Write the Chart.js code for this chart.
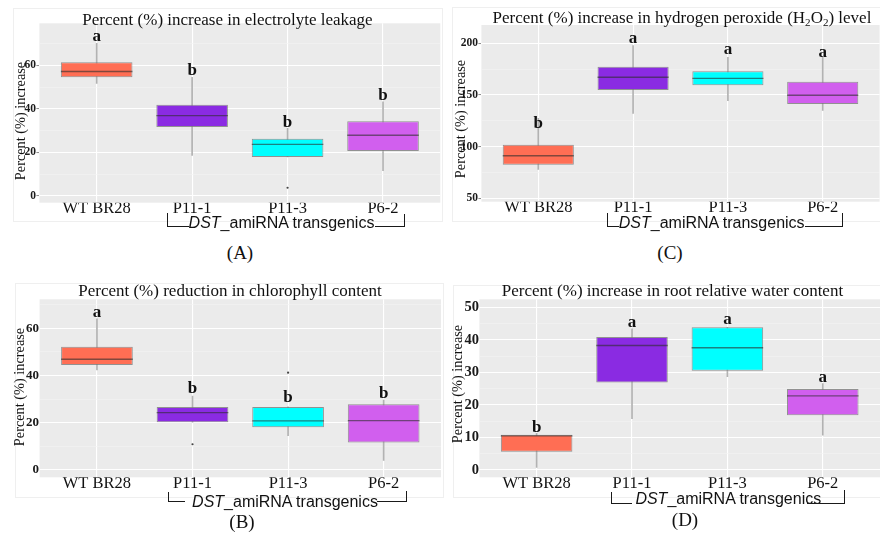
<!DOCTYPE html>
<html><head><meta charset="utf-8">
<script src="https://cdn.jsdelivr.net/npm/chart.js@4.4.0/dist/chart.umd.min.js"></script>
<style>
html,body{margin:0;padding:0;width:880px;height:538px;overflow:hidden;background:#fff;}
.cv{position:absolute;}
.fr{position:absolute;border:1px solid #efefef;box-sizing:border-box;}
.t{position:absolute;white-space:nowrap;line-height:1;transform:translate(-50%,-50%);font-family:"Liberation Serif","Times New Roman",serif;color:#111;}
.ttl{font-size:17px;}
.yt{font-size:14.3px;transform:translate(-50%,-50%) rotate(-90deg);}
.cap{font-size:19px;}
.ds{font-family:"Liberation Sans",Arial,sans-serif;font-size:16px;}
.br{position:absolute;box-sizing:border-box;border:0 solid #1a1a1a;}
.bl{border-left-width:1.4px;border-bottom-width:1.4px;}
.bri{border-right-width:1.4px;border-bottom-width:1.4px;}
sub{font-size:65%;line-height:0;vertical-align:-0.3em;}
</style></head><body>

<div class="fr" style="left:13px;top:8px;width:430px;height:214px"></div>
<div class="fr" style="left:452px;top:7px;width:440px;height:215px"></div>
<div class="fr" style="left:15px;top:283px;width:429px;height:215px"></div>
<div class="fr" style="left:453px;top:285px;width:440px;height:213px"></div>

<canvas id="cA" class="cv" width="445" height="240" style="left:0;top:0"></canvas>
<canvas id="cC" class="cv" width="435" height="240" style="left:445px;top:0"></canvas>
<canvas id="cB" class="cv" width="445" height="240" style="left:0;top:270px"></canvas>
<canvas id="cD" class="cv" width="435" height="240" style="left:445px;top:270px"></canvas>

<div class="t ttl" style="left:227.5px;top:18.8px">Percent (%) increase in electrolyte leakage</div>
<div class="t ttl" style="left:682px;top:16.7px">Percent (%) increase in hydrogen peroxide (H<sub>2</sub>O<sub>2</sub>) level</div>
<div class="t ttl" style="left:230px;top:290px">Percent (%) reduction in chlorophyll content</div>
<div class="t ttl" style="left:672.5px;top:290px">Percent (%) increase in root relative water content</div>

<div class="t yt" style="left:20px;top:121px">Percent (%) increase</div>
<div class="t yt" style="left:460px;top:119px">Percent (%) increase</div>
<div class="t yt" style="left:18.5px;top:386.7px">Percent (%) increase</div>
<div class="t yt" style="left:456.7px;top:384px">Percent (%) increase</div>

<div class="br bl" style="left:167.3px;top:213px;width:21.7px;height:13.7px"></div>
<div class="t ds" style="left:281.5px;top:223.3px"><i>DST</i>_amiRNA transgenics</div>
<div class="br bri" style="left:375px;top:214px;width:29.5px;height:12.7px"></div>

<div class="br bl" style="left:607.3px;top:213.3px;width:12px;height:13.4px"></div>
<div class="t ds" style="left:711.7px;top:223.3px"><i>DST</i>_amiRNA transgenics</div>
<div class="br bri" style="left:805px;top:213.3px;width:37.5px;height:13.4px"></div>

<div class="br bl" style="left:168.3px;top:491.7px;width:16.7px;height:10px"></div>
<div class="t ds" style="left:285px;top:501.7px"><i>DST</i>_amiRNA transgenics</div>
<div class="br bri" style="left:376.7px;top:490.7px;width:30.5px;height:11px"></div>

<div class="br bl" style="left:610.7px;top:491.7px;width:21px;height:12.3px"></div>
<div class="t ds" style="left:728.3px;top:499px"><i>DST</i>_amiRNA transgenics</div>
<div class="br bri" style="left:806.7px;top:490px;width:38px;height:14px"></div>

<div class="t cap" style="left:240px;top:252px">(A)</div>
<div class="t cap" style="left:670px;top:252px">(C)</div>
<div class="t cap" style="left:242px;top:521px">(B)</div>
<div class="t cap" style="left:685px;top:519px">(D)</div>

<script>
// ---------- data ----------
const categories = ['WT BR28', 'P11-1', 'P11-3', 'P6-2'];

// (A) electrolyte leakage
const leakLow     = [51.7, 18.7, 17.9, 11.6];
const leakQ1      = [54.5, 31.7, 17.9, 20.7];
const leakMedian  = [57.2, 36.9, 23.7, 27.9];
const leakQ3      = [61.4, 41.9, 26.3, 34.3];
const leakHigh    = [70.1, 54.5, 31.1, 43.2];
const leakOutliers = [[], [], [3.8], []];
const leakLetters = ['a', 'b', 'b', 'b'];
const leakLetterAt = [71.3, 55.6, 31.5, 44.1];
const leakMajorTicks = [0, 20, 40, 60];
const leakMinorTicks = [10, 30, 50, 70];

// (C) hydrogen peroxide
const h2o2Low     = [78.1, 132.3, 144.5, 135.2];
const h2o2Q1      = [82.6, 154.8, 159.4, 141.3];
const h2o2Median  = [91.3, 167.1, 166.1, 149.7];
const h2o2Q3      = [101.9, 177.4, 172.9, 162.9];
const h2o2High    = [127.4, 197.7, 186.5, 186.5];
const h2o2Outliers = [[], [], [], []];
const h2o2Letters = ['b', 'a', 'a', 'a'];
const h2o2LetterAt = [117.7, 200.0, 189.7, 186.5];
const h2o2MajorTicks = [50, 100, 150, 200];
const h2o2MinorTicks = [75, 125, 175];

// (B) chlorophyll
const chlLow     = [42.4, 20.2, 14.5, 4.0];
const chlQ1      = [44.5, 20.2, 18.1, 11.6];
const chlMedian  = [46.9, 24.3, 20.8, 20.9];
const chlQ3      = [52.2, 26.7, 26.7, 27.8];
const chlHigh    = [64.0, 31.3, 26.7, 29.6];
const chlOutliers = [[], [10.9], [41.2], []];
const chlLetters = ['a', 'b', 'b', 'b'];
const chlLetterAt = [64.9, 32.5, 28.9, 30.4];
const chlMajorTicks = [0, 20, 40, 60];
const chlMinorTicks = [10, 30, 50, 70];

// (D) root relative water content
const rwcLow     = [0.8, 15.8, 28.7, 10.7];
const rwcQ1      = [5.6, 26.9, 30.5, 16.8];
const rwcMedian  = [10.5, 38.3, 37.6, 22.8];
const rwcQ3      = [10.8, 40.9, 43.9, 24.9];
const rwcHigh    = [11.3, 43.4, 43.9, 26.6];
const rwcOutliers = [[], [], [], []];
const rwcLetters = ['b', 'a', 'a', 'a'];
const rwcLetterAt = [11.8, 44.1, 44.9, 27.2];
const rwcMajorTicks = [0, 10, 20, 30, 40, 50];
const rwcMinorTicks = [5, 15, 25, 35, 45];

// ---------- styles ----------
const boxFill = ['#FF6E54', '#8A2BE2', '#00FFFF', '#D15FEE'];
const serif = '"Liberation Serif","Times New Roman",serif';

const bgPlugin = {
  id: 'panelBg',
  beforeDraw(chart) {
    const a = chart.chartArea, c = chart.ctx;
    c.save(); c.fillStyle = '#EBEBEB';
    c.fillRect(a.left, a.top, a.right - a.left, a.bottom - a.top);
    c.restore();
  }
};
const letterPlugin = {
  id: 'letters',
  afterDatasetsDraw(chart) {
    const o = chart.options.plugins.letters;
    const c = chart.ctx, xs = chart.scales.x, ys = chart.scales.y;
    c.save();
    c.font = 'bold 17px ' + serif;
    c.fillStyle = '#111';
    c.textAlign = 'center';
    c.textBaseline = 'alphabetic';
    o.letters.forEach((t, i) => c.fillText(t, xs.getPixelForValue(i + 1), ys.getPixelForValue(o.at[i])));
    c.restore();
  }
};

function boxChart(id, d, L) {
  const xs = categories.map((_, i) => i + 1);
  const outlierPts = [];
  d.outliers.forEach((arr, i) => arr.forEach(v => outlierPts.push({x: i + 1, y: v})));
  const majorSet = new Set(d.major);
  const isMajor = v => majorSet.has(v);
  const allTicks = d.major.concat(d.minor).sort((a, b) => a - b);
  return new Chart(document.getElementById(id), {
    type: 'bar',
    data: {
      datasets: [
        { label: 'whisker', data: xs.map((x, i) => ({x, y: [d.low[i], d.high[i]]})),
          backgroundColor: '#b2b2b2', borderWidth: 0, barThickness: 1, grouped: false, order: 3 },
        { label: 'box', data: xs.map((x, i) => ({x, y: [d.q1[i], d.q3[i]]})),
          backgroundColor: boxFill, borderColor: 'rgba(115,115,115,0.75)', borderWidth: 1,
          borderSkipped: false, grouped: false, categoryPercentage: 0.75, barPercentage: 1, order: 2 },
        { type: 'scatter', label: 'median', data: xs.map((x, i) => ({x, y: d.med[i]})),
          pointStyle: 'line', borderColor: 'rgba(45,45,45,0.6)', pointBorderColor: 'rgba(45,45,45,0.6)',
          pointBorderWidth: 1.4,
          pointRadius: ctx => { const s = ctx.chart.scales.x; return s.getPixelForValue(1.375) - s.getPixelForValue(1); },
          order: 1 },
        { type: 'scatter', label: 'outlier', data: outlierPts, pointRadius: 1.1,
          backgroundColor: '#444', pointBorderWidth: 0, borderWidth: 0, order: 0 }
      ]
    },
    options: {
      responsive: false, animation: false, devicePixelRatio: 1, events: [],
      layout: { padding: { left: 0, top: L.top, right: L.right, bottom: 0 } },
      plugins: { legend: { display: false }, tooltip: { enabled: false }, title: { display: false },
        letters: { letters: d.letters, at: d.letterAt } },
      scales: {
        x: {
          type: 'linear', min: 0.4, max: 4.6, offset: false,
          afterBuildTicks: s => { s.ticks = xs.map(v => ({value: v})); },
          afterFit: s => { s.height = L.xh; s.paddingLeft = 0; s.paddingRight = 0; },
          border: { display: false },
          grid: { color: '#ffffff', lineWidth: 1.1, drawTicks: false, offset: false },
          ticks: { callback: v => categories[Math.round(v) - 1], autoSkip: false, maxRotation: 0,
            font: { family: serif, size: 16.5 }, color: '#111', padding: L.xpad }
        },
        y: {
          min: L.ymin, max: L.ymax,
          afterBuildTicks: s => { s.ticks = allTicks.map(v => ({value: v})); },
          afterFit: s => { s.width = L.left; s.paddingTop = 0; s.paddingBottom = 0; },
          border: { display: false },
          grid: {
            color: c => isMajor(c.tick.value) ? '#ffffff' : '#f3f3f3',
            lineWidth: c => isMajor(c.tick.value) ? 1.1 : 0.6,
            drawTicks: L.tick > 0, tickLength: L.tick,
            tickColor: c => isMajor(c.tick.value) ? '#8a8a8a' : 'rgba(0,0,0,0)', tickWidth: 1
          },
          ticks: { callback: v => isMajor(v) ? String(v) : '', autoSkip: false,
            font: { family: serif, size: L.yfont, weight: 'bold' }, color: '#1a1a1a', padding: 0.5 }
        }
      }
    },
    plugins: [bgPlugin, letterPlugin]
  });
}

boxChart('cA',
  { low: leakLow, q1: leakQ1, med: leakMedian, q3: leakQ3, high: leakHigh, outliers: leakOutliers,
    letters: leakLetters, letterAt: leakLetterAt, major: leakMajorTicks, minor: leakMinorTicks },
  { left: 39.4, top: 23.3, right: 4.7, xh: 37.3, ymin: -3.06, ymax: 79.3, xpad: -3.6, yfont: 11.5, tick: 3 });

boxChart('cC',
  { low: h2o2Low, q1: h2o2Q1, med: h2o2Median, q3: h2o2Q3, high: h2o2High, outliers: h2o2Outliers,
    letters: h2o2Letters, letterAt: h2o2LetterAt, major: h2o2MajorTicks, minor: h2o2MinorTicks },
  { left: 36.4, top: 25, right: 0.4, xh: 38.3, ymin: 46.8, ymax: 217.7, xpad: -4, yfont: 11.5, tick: 3 });

boxChart('cB',
  { low: chlLow, q1: chlQ1, med: chlMedian, q3: chlQ3, high: chlHigh, outliers: chlOutliers,
    letters: chlLetters, letterAt: chlLetterAt, major: chlMajorTicks, minor: chlMinorTicks },
  { left: 39.6, top: 29.3, right: 1.6, xh: 32.7, ymin: -3.1, ymax: 72.3, xpad: -3.2, yfont: 13, tick: 0 });

boxChart('cD',
  { low: rwcLow, q1: rwcQ1, med: rwcMedian, q3: rwcQ3, high: rwcHigh, outliers: rwcOutliers,
    letters: rwcLetters, letterAt: rwcLetterAt, major: rwcMajorTicks, minor: rwcMinorTicks },
  { left: 34.4, top: 29.3, right: 0, xh: 32.7, ymin: -2.25, ymax: 52.5, xpad: -3.2, yfont: 14.5, tick: 0 });
</script>
</body></html>
